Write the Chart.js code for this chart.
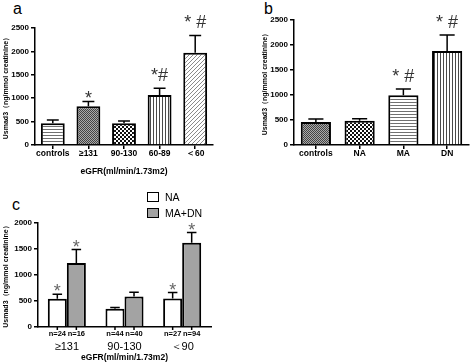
<!DOCTYPE html>
<html>
<head>
<meta charset="utf-8">
<script src="https://cdn.jsdelivr.net/npm/chart.js@4.4.0/dist/chart.umd.min.js"></script>
<style>
  body { margin: 0; background: #fff; width: 472px; height: 364px; position: relative; overflow: hidden;
         font-family: "Liberation Sans", Arial, sans-serif; }
  canvas { position: absolute; }
  .tag { position: absolute; font-size: 16px; line-height: 16px; color: #000; }
  #legendC { position: absolute; left: 147px; top: 191px; font-size: 10.5px; }
  #legendC div { height: 16px; line-height: 12px; white-space: nowrap; }
  #legendC span.sw { display: inline-block; width: 10px; height: 8px; border: 1.5px solid #000;
                     vertical-align: top; margin-top: 1px; margin-right: 6px; }
</style>
</head>
<body>
<div class="tag" style="left:13px;top:1px;">a</div>
<div class="tag" style="left:264px;top:1px;">b</div>
<div class="tag" style="left:12px;top:197px;">c</div>
<canvas id="chartA" width="236" height="185" style="left:0;top:0;"></canvas>
<canvas id="chartB" width="236" height="185" style="left:236px;top:0;"></canvas>
<canvas id="chartC" width="250" height="179" style="left:0;top:185px;"></canvas>
<div id="legendC"></div>
<script>
// panel a : eGFR groups
var catsA = ['controls', '≥131', '90-130', '60-89', '＜60'];
var meanA = [464, 830, 464, 1068, 1970];
var errA = [534, 930, 513, 1210, 2340];
var markA = ['', '*', '', '*#', '* #'];

// panel b : albuminuria groups
var catsB = ['controls', 'NA', 'MA', 'DN'];
var meanB = [460, 487, 995, 1880];
var errB = [522, 527, 1120, 2200];
var markB = ['', '', '* #', '* #'];

// panel c : NA vs MA+DN by eGFR
var catsC = ['≥131', '90-130', '＜90'];
var meanNA = [541, 350, 547];
var errNA = [631, 375, 662];
var meanMD = [1230, 585, 1618];
var errMD = [1490, 669, 1816];
var markNA = ['*', '', '*'];
var markMD = ['*', '', '*'];
var nNA = [24, 44, 27];
var nMD = [16, 40, 94];

var yTitle = 'Usmad3（ng/mmol creatinine）';
var xTitle = 'eGFR(ml/min/1.73m2)';

Chart.defaults.font.family = '"Liberation Sans", Arial, sans-serif';
Chart.defaults.color = '#000';
Chart.defaults.animation = false;

// fill patterns for the bars
function makePattern(kind) {
  var c = document.createElement('canvas');
  var g = c.getContext('2d');
  var s = (kind === 'diag' || kind === 'check') ? 4 : (kind === 'mesh' ? 2 : 3);
  c.width = s; c.height = s;
  g.fillStyle = '#fff';
  g.fillRect(0, 0, s, s);
  if (kind === 'hline') {
    g.fillStyle = '#707070'; g.fillRect(0, 0, s, 1);
  } else if (kind === 'vline') {
    g.fillStyle = '#4a4a4a'; g.fillRect(0, 0, 1, s);
  } else if (kind === 'diag') {
    g.fillStyle = '#8a8a8a';
    for (var i = 0; i < s; i++) g.fillRect(i, s - 1 - i, 1, 1);
  } else if (kind === 'mesh') {
    g.fillStyle = '#444'; g.fillRect(0, 0, 1, 1); g.fillRect(1, 1, 1, 1);
    g.fillStyle = '#aaa'; g.fillRect(1, 0, 1, 1); g.fillRect(0, 1, 1, 1);
  } else if (kind === 'check') {
    g.fillStyle = '#111'; g.fillRect(0, 0, 2, 2); g.fillRect(2, 2, 2, 2);
  }
  return g.createPattern(c, 'repeat');
}

// error bars + significance marks
var errPlugin = {
  id: 'errBars',
  afterDatasetsDraw: function(chart, args, opts) {
    var ctx = chart.ctx, y = chart.scales.y;
    chart.data.datasets.forEach(function(ds, di) {
      var meta = chart.getDatasetMeta(di);
      meta.data.forEach(function(bar, i) {
        var top = y.getPixelForValue(ds.errTop[i]);
        var half = bar.width / 4;
        ctx.save();
        ctx.strokeStyle = '#000';
        ctx.lineWidth = 1.5;
        ctx.beginPath();
        ctx.moveTo(bar.x, bar.y);
        ctx.lineTo(bar.x, top);
        ctx.moveTo(bar.x - half, top);
        ctx.lineTo(bar.x + half, top);
        ctx.stroke();
        var m = ds.marks[i];
        if (m) {
          ctx.fillStyle = opts.markColor;
          ctx.font = opts.markFont;
          ctx.textAlign = 'center';
          ctx.textBaseline = 'alphabetic';
          ctx.fillText(m, bar.x, top - (m.indexOf('#') >= 0 ? 7 : -3));
        }
        ctx.restore();
      });
    });
  }
};

// tick marks and n= labels under each bar of panel c
var nPlugin = {
  id: 'nLabels',
  afterDraw: function(chart) {
    var ctx = chart.ctx, bottom = chart.chartArea.bottom;
    ctx.save();
    ctx.strokeStyle = '#000';
    ctx.lineWidth = 1.5;
    ctx.fillStyle = '#000';
    ctx.font = 'bold 7.5px "Liberation Sans", Arial, sans-serif';
    ctx.textAlign = 'center';
    ctx.textBaseline = 'middle';
    chart.data.datasets.forEach(function(ds, di) {
      chart.getDatasetMeta(di).data.forEach(function(bar, i) {
        ctx.beginPath();
        ctx.moveTo(bar.x, bottom);
        ctx.lineTo(bar.x, bottom + 3);
        ctx.stroke();
        ctx.fillText('n=' + ds.nCount[i], bar.x, bottom + 7);
      });
    });
    ctx.restore();
  }
};

function yScale(max, w) {
  return {
    min: 0, max: max,
    afterFit: function(s) { s.width = w; },
    ticks: { stepSize: 500, font: { size: 8, weight: 'bold' }, padding: 2,
             callback: function(v) { return String(v); } },
    grid: { drawOnChartArea: false, tickLength: 4, color: '#000', lineWidth: 1.5 },
    border: { color: '#000', width: 1.5 },
    title: { display: true, text: yTitle, font: { size: 7, weight: 'bold' }, padding: { top: 2, bottom: 0 } }
  };
}

function xScale(h, showTitle) {
  return {
    afterFit: function(s) { s.height = h; },
    ticks: { font: { size: 8.5, weight: 'bold' }, padding: 0, maxRotation: 0, autoSkip: false },
    grid: { offset: false, drawOnChartArea: false, tickLength: 4, color: '#000', lineWidth: 1.5 },
    border: { color: '#000', width: 1.5 },
    title: { display: showTitle, text: xTitle, font: { size: 8.5, weight: 'bold' }, padding: { top: 0, bottom: 8 } }
  };
}

var plugOpts = {
  legend: { display: false },
  tooltip: { enabled: false },
  errBars: { markColor: '#333', markFont: '18px "Liberation Sans", Arial, sans-serif' }
};

new Chart(document.getElementById('chartA'), {
  type: 'bar',
  data: {
    labels: catsA,
    datasets: [{
      data: meanA,
      errTop: errA,
      marks: markA,
      backgroundColor: [makePattern('hline'), makePattern('mesh'), makePattern('check'), makePattern('vline'), makePattern('diag')],
      borderColor: '#000',
      borderWidth: 2,
      barPercentage: 0.67,
      categoryPercentage: 1
    }]
  },
  options: {
    responsive: false,
    layout: { padding: { left: 0, top: 28, right: 23, bottom: 0 } },
    scales: { x: xScale(40, true), y: yScale(2500, 35) },
    plugins: plugOpts
  },
  plugins: [errPlugin]
});

new Chart(document.getElementById('chartB'), {
  type: 'bar',
  data: {
    labels: catsB,
    datasets: [{
      data: meanB,
      errTop: errB,
      marks: markB,
      backgroundColor: [makePattern('mesh'), makePattern('check'), makePattern('hline'), makePattern('vline')],
      borderColor: '#000',
      borderWidth: 2,
      barPercentage: 0.69,
      categoryPercentage: 1
    }]
  },
  options: {
    responsive: false,
    layout: { padding: { left: 23, top: 20, right: 3, bottom: 0 } },
    scales: { x: xScale(40, false), y: yScale(2500, 35) },
    plugins: plugOpts
  },
  plugins: [errPlugin]
});

var xC = xScale(37, true);
xC.grid = { drawOnChartArea: false, drawTicks: false, color: '#000' };
xC.ticks = { font: { size: 11 }, padding: 13, maxRotation: 0, autoSkip: false };
xC.title.padding = { top: 0, bottom: 1 };

var chartC = new Chart(document.getElementById('chartC'), {
  type: 'bar',
  data: {
    labels: catsC,
    datasets: [{
      label: 'NA',
      data: meanNA,
      errTop: errNA,
      marks: markNA,
      nCount: nNA,
      backgroundColor: '#fff',
      borderColor: '#000',
      borderWidth: 2,
      barPercentage: 1,
      categoryPercentage: 0.66
    }, {
      label: 'MA+DN',
      data: meanMD,
      errTop: errMD,
      marks: markMD,
      nCount: nMD,
      backgroundColor: '#a3a3a3',
      borderColor: '#000',
      borderWidth: 2,
      barPercentage: 1,
      categoryPercentage: 0.66
    }]
  },
  options: {
    responsive: false,
    layout: { padding: { left: 0, top: 38, right: 39, bottom: 0 } },
    scales: { x: xC, y: yScale(2000, 38) },
    plugins: {
      legend: { display: false },
      tooltip: { enabled: false },
      errBars: { markColor: '#666', markFont: '18px "Liberation Sans", Arial, sans-serif' }
    }
  },
  plugins: [errPlugin, nPlugin]
});

// legend for panel c, built from its datasets
var leg = document.getElementById('legendC');
chartC.data.datasets.forEach(function(ds) {
  var row = document.createElement('div');
  var sw = document.createElement('span');
  sw.className = 'sw';
  sw.style.background = ds.backgroundColor;
  row.appendChild(sw);
  row.appendChild(document.createTextNode(ds.label));
  leg.appendChild(row);
});
</script>
</body>
</html>
